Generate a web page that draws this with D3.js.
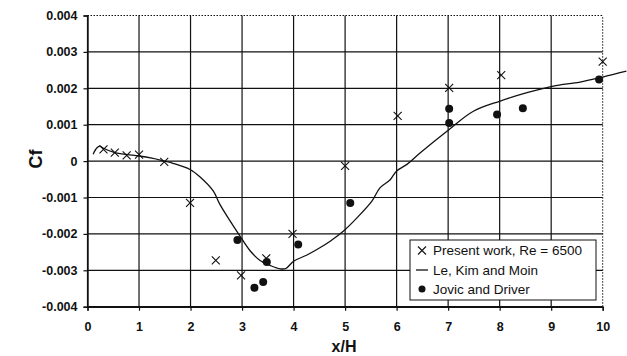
<!DOCTYPE html>
<html>
<head>
<meta charset="utf-8">
<script src="https://cdn.jsdelivr.net/npm/d3@7"></script>
<style>
  html, body { margin: 0; padding: 0; background: #fff; }
  svg { display: block; font-family: Arial, "Liberation Sans", sans-serif; }
</style>
</head>
<body>
<svg id="chart" width="627" height="356"></svg>
<script>
// ---- data ----
const xTicks = [0, 1, 2, 3, 4, 5, 6, 7, 8, 9, 10];
const yTicks = [-0.004, -0.003, -0.002, -0.001, 0, 0.001, 0.002, 0.003, 0.004];
const yTickLabels = ["-0.004", "-0.003", "-0.002", "-0.001", "0", "0.001", "0.002", "0.003", "0.004"];

// Present work, Re = 6500 (crosses)
const presentX = [0.31, 0.53, 0.76, 1.0, 1.49, 1.99, 2.49, 2.98, 3.47, 3.98, 5.0, 6.02, 7.02, 8.03, 10.0];
const presentCf = [0.00032, 0.00023, 0.00016, 0.00018, -0.00002, -0.00115, -0.00273, -0.00314, -0.00267, -0.0020, -0.00013, 0.00124, 0.00201, 0.00236, 0.00273];

// Le, Kim and Moin (line)
const lkmX = [0.11, 0.18, 0.24, 0.30, 0.53, 0.77, 1.0, 1.25, 1.49, 1.66, 1.99, 2.18, 2.44, 2.57, 2.77, 2.96, 3.16, 3.35, 3.55, 3.74, 3.85, 4.0, 4.26, 4.51, 4.71, 4.97, 5.23, 5.52, 5.68, 5.87, 6.0, 6.2, 6.46, 7.02, 7.49, 8.01, 8.53, 9.04, 9.56, 10.0, 10.46];
const lkmCf = [0.00019, 0.00036, 0.00041, 0.00036, 0.00023, 0.00018, 0.00014, 0.00008, 0.0, -0.00006, -0.00023, -0.00043, -0.00082, -0.00119, -0.00165, -0.00206, -0.00247, -0.00273, -0.00287, -0.00296, -0.00295, -0.00275, -0.00258, -0.00238, -0.0022, -0.00192, -0.00156, -0.0011, -0.00073, -0.00052, -0.00027, -0.00009, 0.00023, 0.00087, 0.00137, 0.00165, 0.00188, 0.00206, 0.00217, 0.00231, 0.00247];

// Jovic and Driver (dots)
const jdX = [2.91, 3.24, 3.41, 3.48, 4.09, 5.1, 7.02, 7.02, 7.95, 8.45, 9.93];
const jdCf = [-0.00217, -0.00348, -0.00332, -0.00277, -0.00229, -0.00115, 0.00144, 0.00105, 0.00128, 0.00145, 0.00224];

const legendLabels = ["Present work, Re = 6500", "Le, Kim and Moin", "Jovic and Driver"];

// ---- layout ----
const svg = d3.select("#chart");
const x = d3.scaleLinear().domain([0, 10]).range([87.5, 602.7]);
const y = d3.scaleLinear().domain([-0.004, 0.004]).range([306.7, 15.5]);
const ink = "#111";

// grid
const grid = svg.append("g");
xTicks.forEach(v => {
  grid.append("line")
    .attr("x1", x(v)).attr("x2", x(v))
    .attr("y1", y(-0.004)).attr("y2", y(0.004))
    .attr("stroke", ink)
    .attr("stroke-width", v === 10 ? 1 : 1.2)
    .attr("stroke-dasharray", v === 10 ? "1.5,1.5" : null);
});
yTicks.forEach(v => {
  grid.append("line")
    .attr("x1", x(0)).attr("x2", x(10))
    .attr("y1", y(v)).attr("y2", y(v))
    .attr("stroke", ink)
    .attr("stroke-width", v === 0.004 ? 1 : 1.2)
    .attr("stroke-dasharray", v === 0.004 ? "1.5,1.5" : null);
});

// axes
const yAxis = d3.axisLeft(y).tickValues(yTicks).tickSize(4).tickPadding(6)
  .tickFormat((d, i) => yTickLabels[i]);
const gy = svg.append("g").attr("transform", `translate(${x(0)},0)`).call(yAxis);
const xAxis = d3.axisBottom(x).tickValues(xTicks).tickSize(4).tickPadding(11)
  .tickFormat(d3.format("d"));
const gx = svg.append("g").attr("transform", `translate(0,${y(-0.004)})`).call(xAxis);
[gx, gy].forEach(g => {
  g.select(".domain").attr("stroke", ink).attr("stroke-width", 1.4);
  g.selectAll(".tick line").attr("stroke", ink).attr("stroke-width", 1.2);
  g.selectAll(".tick text").attr("fill", ink).attr("font-size", 12.5)
    .attr("font-weight", "bold").attr("font-family", "Arial, 'Liberation Sans', sans-serif");
});

// axis titles
svg.append("text").attr("x", 344).attr("y", 352).attr("text-anchor", "middle")
  .attr("font-size", 16).attr("font-weight", "bold").attr("fill", ink).text("x/H");
svg.append("text").attr("transform", "translate(42,159) rotate(-90)").attr("text-anchor", "middle")
  .attr("font-size", 18).attr("font-weight", "bold").attr("fill", ink).text("Cf");

// line
const line = d3.line().x(d => x(d[0])).y(d => y(d[1])).curve(d3.curveCatmullRom.alpha(0.5));
svg.append("path").datum(lkmX.map((v, i) => [v, lkmCf[i]]))
  .attr("d", line).attr("fill", "none").attr("stroke", ink).attr("stroke-width", 1.3);

// crosses
const cs = 4;
const crosses = svg.append("g");
presentX.forEach((v, i) => {
  const cx = x(v), cy = y(presentCf[i]);
  crosses.append("path")
    .attr("d", `M${cx - cs},${cy - cs}L${cx + cs},${cy + cs}M${cx - cs},${cy + cs}L${cx + cs},${cy - cs}`)
    .attr("stroke", ink).attr("stroke-width", 1.1).attr("fill", "none");
});

// dots
svg.append("g").selectAll("circle").data(jdX).join("circle")
  .attr("cx", d => x(d)).attr("cy", (d, i) => y(jdCf[i])).attr("r", 4)
  .attr("fill", ink);

// legend
const lg = svg.append("g");
lg.append("rect").attr("x", 410).attr("y", 240).attr("width", 186).attr("height", 60)
  .attr("fill", "#fff").attr("stroke", ink).attr("stroke-width", 1);
const rowsY = [250.5, 270, 289];
const sx = 422;
lg.append("path")
  .attr("d", `M${sx - 4},${rowsY[0] - 4}L${sx + 4},${rowsY[0] + 4}M${sx - 4},${rowsY[0] + 4}L${sx + 4},${rowsY[0] - 4}`)
  .attr("stroke", ink).attr("stroke-width", 1.1);
lg.append("line").attr("x1", sx - 6).attr("x2", sx + 6).attr("y1", rowsY[1]).attr("y2", rowsY[1])
  .attr("stroke", ink).attr("stroke-width", 1.3);
lg.append("circle").attr("cx", sx).attr("cy", rowsY[2]).attr("r", 3.5).attr("fill", ink);
legendLabels.forEach((t, i) => {
  lg.append("text").attr("x", 433).attr("y", rowsY[i]).attr("dy", "0.35em")
    .attr("font-size", 13.5).attr("fill", ink).text(t);
});
</script>
</body>
</html>
